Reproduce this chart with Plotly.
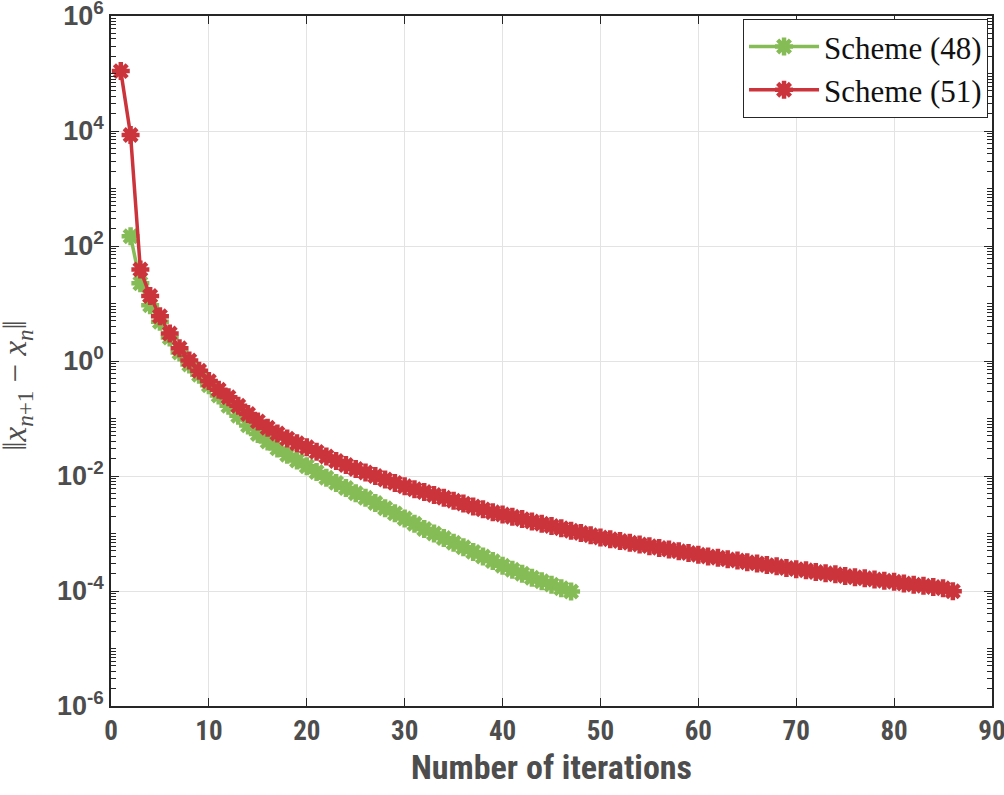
import plotly.graph_objects as go

# iteration counts
iters_48 = list(range(2, 48))
iters_51 = list(range(1, 87))

# ||x_{n+1} - x_n||
err_48 = [
    148, 22.4, 9.3, 4.8, 2.57, 1.41, 0.871, 0.575, 0.380, 0.251,
    0.166, 0.112, 0.0759, 0.0537, 0.0398, 0.0302, 0.0234, 0.0186, 0.0148, 0.0117,
    9.33e-3, 7.59e-3, 6.17e-3, 5.01e-3, 4.17e-3, 3.39e-3, 2.75e-3, 2.24e-3, 1.82e-3, 1.48e-3,
    1.20e-3, 1.00e-3, 8.32e-4, 6.92e-4, 5.75e-4, 4.79e-4, 3.98e-4, 3.31e-4, 2.75e-4, 2.34e-4,
    2.00e-4, 1.70e-4, 1.48e-4, 1.29e-4, 1.12e-4, 9.8e-5,
]
err_51 = [
    1.10e5, 8.5e3, 39, 13.5, 6.0, 3.0, 1.66, 1.02, 0.676, 0.447,
    0.316, 0.234, 0.166, 0.120, 0.0891, 0.0692, 0.0550, 0.0447, 0.0372, 0.0316,
    0.0263, 0.0219, 0.0182, 0.0155, 0.0132, 0.0115, 0.0100, 8.71e-3, 7.59e-3, 6.61e-3,
    5.89e-3, 5.25e-3, 4.68e-3, 4.17e-3, 3.72e-3, 3.31e-3, 2.95e-3, 2.63e-3, 2.34e-3, 2.14e-3,
    1.95e-3, 1.78e-3, 1.62e-3, 1.48e-3, 1.35e-3, 1.23e-3, 1.12e-3, 1.02e-3, 9.33e-4, 8.51e-4,
    7.94e-4, 7.41e-4, 6.92e-4, 6.46e-4, 6.03e-4, 5.62e-4, 5.25e-4, 4.90e-4, 4.57e-4, 4.27e-4,
    3.98e-4, 3.80e-4, 3.55e-4, 3.39e-4, 3.16e-4, 3.02e-4, 2.82e-4, 2.69e-4, 2.51e-4, 2.40e-4,
    2.29e-4, 2.14e-4, 2.04e-4, 1.95e-4, 1.82e-4, 1.74e-4, 1.66e-4, 1.58e-4, 1.51e-4, 1.45e-4,
    1.35e-4, 1.29e-4, 1.23e-4, 1.17e-4, 1.12e-4, 9.9e-5,
]

x_ticks = [0, 10, 20, 30, 40, 50, 60, 70, 80, 90]
y_exps = [-6, -4, -2, 0, 2, 4, 6]

GREEN = "#86BC55"
RED = "#CC343C"
GRAY = "#4D4D4D"
AXIS = "#262626"
NARROW = "Liberation Sans Narrow, Arial Narrow, Roboto Condensed, Liberation Sans, Arial"
SERIF = "Liberation Serif, DejaVu Serif, serif"

fig = go.Figure()
for xs, ys, name, col in [(iters_48, err_48, "Scheme (48)", GREEN),
                          (iters_51, err_51, "Scheme (51)", RED)]:
    fig.add_trace(go.Scatter(
        x=xs, y=ys, mode="lines+markers", name=name,
        line=dict(color=col, width=3.5),
        marker=dict(symbol="asterisk-open", size=15, color=col,
                    line=dict(color=col, width=4.5)),
    ))

# minor ticks: 2..9 x 10^k plus the odd decades
minor_vals = []
for k in range(-6, 6):
    for m in range(2, 10):
        minor_vals.append(m * 10.0 ** k)
    if k % 2 == 0:
        minor_vals.append(10.0 ** (k + 1))

# y label as an annotation so it can sit where the original has it
fig.add_annotation(
    text="‖<i>x</i><sub><i>n</i>+1</sub> − <i>x<sub>n</sub></i>‖",
    xref="paper", yref="paper", x=-0.106, y=0.465,
    xanchor="center", yanchor="middle", textangle=-90, showarrow=False,
    font=dict(family=SERIF, size=33, color=GRAY),
)

fig.update_layout(
    width=1004, height=795,
    margin=dict(l=111, r=12, t=16, b=89),
    plot_bgcolor="white", paper_bgcolor="white",
    showlegend=True,
    legend=dict(
        x=0.9955, y=0.996, xanchor="right", yanchor="top",
        bgcolor="white", bordercolor=AXIS, borderwidth=1,
        font=dict(family=SERIF, size=31, color="#111"),
        itemwidth=70, tracegroupgap=0,
    ),
    xaxis=dict(
        range=[0, 90], tickvals=x_ticks, ticktext=[str(v) for v in x_ticks],
        ticks="inside", ticklen=8, tickcolor=AXIS, tickwidth=1,
        showline=True, linecolor=AXIS, linewidth=1.5, mirror="ticks",
        showgrid=True, gridcolor="#E3E3E3", gridwidth=1, zeroline=False,
        automargin=False, ticklabeloverflow="allow",
        tickfont=dict(family=NARROW, size=27, color=GRAY, weight="bold"),
        title=dict(text="<b>Number of iterations</b>", standoff=8,
                   font=dict(family=NARROW, size=34, color=GRAY)),
    ),
    yaxis=dict(
        type="log", range=[-6, 6],
        tickvals=[10.0 ** e for e in y_exps],
        ticktext=["<b>10<sup>%d</sup></b>" % e for e in y_exps],
        ticks="inside", ticklen=8, tickcolor=AXIS, tickwidth=1,
        minor=dict(tickvals=minor_vals, ticks="inside", ticklen=5,
                   tickcolor=AXIS, showgrid=False),
        showline=True, linecolor=AXIS, linewidth=1.5, mirror="ticks",
        showgrid=True, gridcolor="#E3E3E3", gridwidth=1, zeroline=False,
        automargin=False, ticklabeloverflow="allow",
        tickfont=dict(family="Liberation Sans, Arial", size=27, color=GRAY),
    ),
)

fig.write_html("out.html", config={"displayModeBar": False},
               post_script="document.body.style.margin='0';")
